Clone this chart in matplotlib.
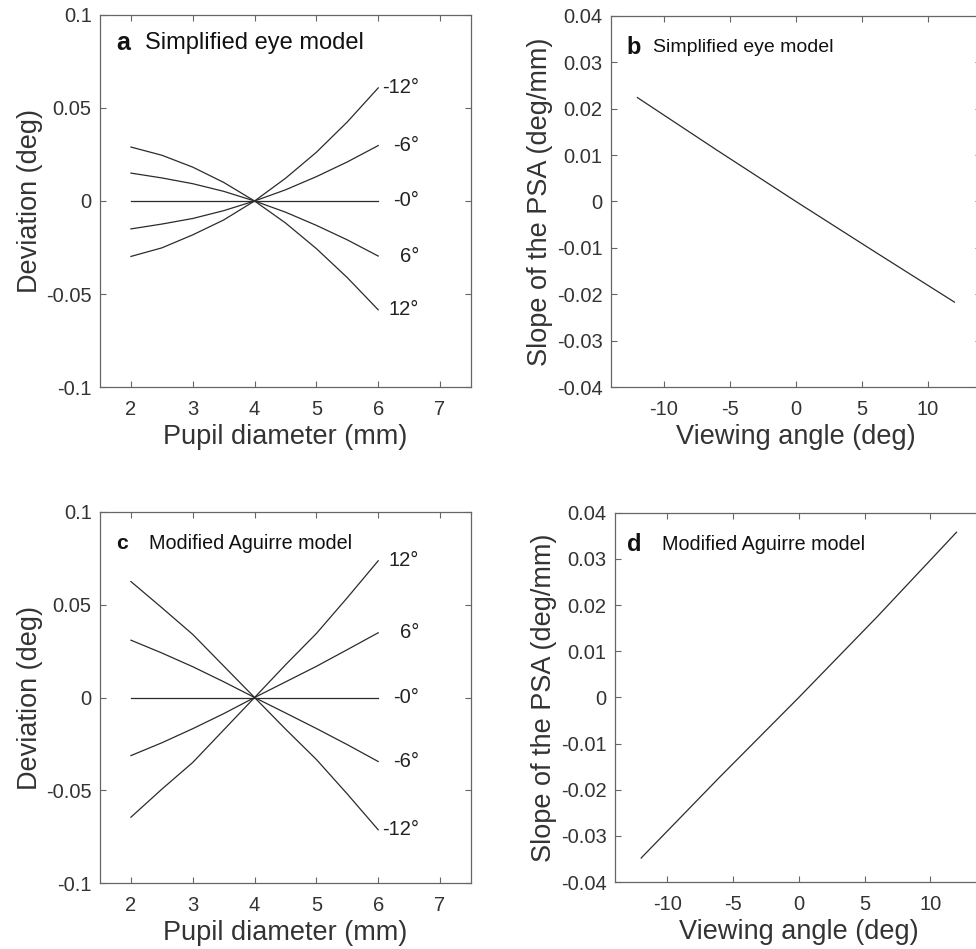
import matplotlib
matplotlib.use('Agg')
import matplotlib.pyplot as plt

plt.rcParams['font.family'] = ['Liberation Sans', 'DejaVu Sans']
plt.rcParams['axes.unicode_minus'] = False

# pupil diameter (mm) for panels a and c
pupil = [2, 2.5, 3, 3.5, 4, 4.5, 5, 5.5, 6]

# panel a: deviation (deg) per viewing angle, simplified eye model
a_labels = ['-12°', '-6°', '-0°', '6°', '12°']
a_m12 = [-0.0298, -0.0252, -0.0182, -0.0102, 0, 0.0122, 0.0262, 0.0425, 0.0608]
a_m6 = [-0.0150, -0.0124, -0.0094, -0.0052, 0, 0.0060, 0.0131, 0.0210, 0.0298]
a_0 = [0, 0, 0, 0, 0, 0, 0, 0, 0]
a_p6 = [0.0150, 0.0124, 0.0093, 0.0052, 0, -0.0060, -0.0131, -0.0209, -0.0296]
a_p12 = [0.0290, 0.0246, 0.0182, 0.0100, 0, -0.0118, -0.0256, -0.0412, -0.0585]

# panel c: deviation (deg), modified Aguirre model
c_labels = ['12°', '6°', '-0°', '-6°', '-12°']
c_p12 = [-0.0645, -0.0494, -0.0350, -0.0175, 0, 0.0176, 0.0345, 0.0538, 0.0737]
c_p6 = [-0.0313, -0.0244, -0.0168, -0.0087, 0, 0.0084, 0.0168, 0.0258, 0.0349]
c_m6 = [0.0309, 0.0240, 0.0166, 0.0085, 0, -0.0083, -0.0167, -0.0254, -0.0345]
c_m12 = [0.0625, 0.0484, 0.0340, 0.0170, 0, -0.0170, -0.0334, -0.0520, -0.0713]

# panels b and d: slope of the PSA vs viewing angle
angle = [-12, -6, 0, 6, 12]
b_slope = [0.0224, 0.0111, 0.0, -0.0109, -0.0217]
d_slope = [-0.0348, -0.0172, 0.0, 0.0176, 0.0358]

line_col = '#2b2b2b'
txt_col = '#333333'


def style(ax):
    for s in ax.spines.values():
        s.set_color('#666666')
        s.set_linewidth(0.9)
    ax.tick_params(direction='in', length=4, width=0.8, colors='#666666',
                   labelcolor=txt_col, labelsize=14.5, top=True, right=True)
    ax.tick_params(axis='x', pad=9)
    ax.tick_params(axis='y', pad=6)


def deviation_panel(ax, curves, labels, letter, title, title_size):
    for ys, lab in zip(curves, labels):
        ax.plot(pupil, ys, color=line_col, lw=0.9)
        ax.text(6.66, ys[-1], lab, ha='right', va='center', fontsize=14.5, color='#222222')
    ax.set_xlim(1.5, 7.5)
    ax.set_ylim(-0.1, 0.1)
    ax.set_xticks([2, 3, 4, 5, 6, 7])
    ax.set_yticks([-0.1, -0.05, 0, 0.05, 0.1])
    ax.set_yticklabels(['-0.1', '-0.05', '0', '0.05', '0.1'])
    ax.set_xlabel('Pupil diameter (mm)', fontsize=19.5, color=txt_col, labelpad=4)
    ax.set_ylabel('Deviation (deg)', fontsize=19.5, color=txt_col, labelpad=2)
    style(ax)
    ax.text(letter[1], letter[2], letter[0], transform=ax.transAxes, fontsize=title_size + 1,
            fontweight='bold', va='center', color='#111111')
    ax.text(title[1], letter[2], title[0], transform=ax.transAxes, fontsize=title_size,
            va='center', color='#111111')


def slope_panel(ax, ys, letter, title, title_size):
    ax.plot(angle, ys, color=line_col, lw=0.9)
    ax.set_xlim(-14, 14)
    ax.set_ylim(-0.04, 0.04)
    ax.set_xticks([-10, -5, 0, 5, 10])
    ax.set_yticks([-0.04, -0.03, -0.02, -0.01, 0, 0.01, 0.02, 0.03, 0.04])
    ax.set_yticklabels(['-0.04', '-0.03', '-0.02', '-0.01', '0', '0.01', '0.02', '0.03', '0.04'])
    ax.set_xlabel('Viewing angle (deg)', fontsize=19.5, color=txt_col, labelpad=4)
    ax.set_ylabel('Slope of the PSA (deg/mm)', fontsize=19.5, color=txt_col, labelpad=3)
    style(ax)
    ax.text(letter[1], letter[2], letter[0], transform=ax.transAxes, fontsize=17,
            fontweight='bold', va='center', color='#111111')
    ax.text(title[1], letter[2], title[0], transform=ax.transAxes, fontsize=title_size,
            va='center', color='#111111')


fig = plt.figure(figsize=(9.76, 9.49), dpi=100)

ax_a = fig.add_axes([0.1025, 0.5922, 0.380, 0.392])
ax_b = fig.add_axes([0.626, 0.5922, 0.379, 0.391])
ax_c = fig.add_axes([0.1025, 0.0695, 0.380, 0.391])
ax_d = fig.add_axes([0.630, 0.0706, 0.377, 0.389])

deviation_panel(ax_a, [a_m12, a_m6, a_0, a_p6, a_p12], a_labels,
                ('a', 0.043, 0.925), ('Simplified eye model', 0.121), 17)
deviation_panel(ax_c, [c_p12, c_p6, a_0, c_m6, c_m12], c_labels,
                ('c', 0.043, 0.916), ('Modified Aguirre model', 0.132), 14.2)
slope_panel(ax_b, b_slope, ('b', 0.043, 0.914), ('Simplified eye model', 0.114), 14)
slope_panel(ax_d, d_slope, ('d', 0.032, 0.913), ('Modified Aguirre model', 0.127), 14.2)

fig.savefig('out.png', dpi=100)
plt.close()
